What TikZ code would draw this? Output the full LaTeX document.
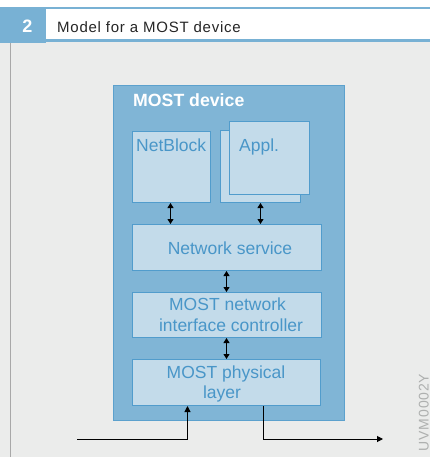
\documentclass[tikz,border=0pt]{standalone}
\usepackage{fontspec}
\setmainfont{Liberation Sans}
\newfontfamily\hdrfont[LetterSpace=5]{Liberation Sans}
\newfontfamily\codefont[LetterSpace=6]{Liberation Sans}
\usetikzlibrary{arrows.meta}
\definecolor{bgray}{HTML}{EBECEB}
\definecolor{hblue}{HTML}{78B1D4}
\definecolor{devfill}{HTML}{80B5D6}
\definecolor{devline}{HTML}{5CA1CD}
\definecolor{boxfill}{HTML}{C3DBEA}
\definecolor{boxline}{HTML}{519CCC}
\definecolor{txtblue}{HTML}{4996C8}
\definecolor{codegray}{HTML}{AEB0AF}
\definecolor{edgegray}{HTML}{A8A8A8}
\begin{document}
\begin{tikzpicture}[x=1pt,y=-1pt,
  blk/.style={draw=boxline, fill=boxfill, line width=1pt, inner sep=0pt, rectangle, anchor=north west},
  lbl/.style={text=txtblue, font=\fontsize{17.5}{20}\selectfont, inner sep=0pt, anchor=base},
  dbl/.style={{Triangle[length=5pt,width=6pt]}-{Triangle[length=5pt,width=6pt]}, line width=1pt, black},
  sig/.style={-{Triangle[length=6pt,width=6pt]}, line width=1pt, black}]
\useasboundingbox (0,0) rectangle (430,457);
% background
\fill[white] (0,0) rectangle (430,457);
\fill[bgray] (0,42.5) rectangle (430,457);
\draw[edgegray, line width=0.8pt] (10.5,42.5) -- (10.5,457);
% header
\fill[hblue] (0,7.5) rectangle (430,9.5);
\fill[hblue] (0,39.5) rectangle (430,42.5);
\node[fill=hblue, inner sep=0pt, minimum width=46pt, minimum height=35pt, anchor=north west] (numbox) at (0,7.5) {};
\node[text=white, font=\fontsize{18}{20}\selectfont\bfseries, inner sep=0pt, anchor=base] (num) at (27.3,32.7) {2};
\node[text=black!85, font=\hdrfont\fontsize{15}{17}\selectfont, inner sep=0pt, anchor=base west] (title) at (57,32.3) {Model for a MOST device};
% device
\node[draw=devline, fill=devfill, line width=1pt, inner sep=0pt, minimum width=231pt, minimum height=335pt, anchor=north west] (dev) at (113,85) {};
\node[text=white, font=\fontsize{17.7}{20}\selectfont\bfseries, inner sep=0pt, anchor=base west] (devlbl) at (133,106.3) {MOST device};
% boxes
\node[blk, minimum width=78pt, minimum height=71pt] (netblock) at (132,131) {};
\node[lbl, anchor=base west] (nbtxt) at (136,151) {NetBlock};
\node[blk, minimum width=80pt, minimum height=72pt] (applback) at (220,130) {};
\node[blk, minimum width=80pt, minimum height=72pt] (applfront) at (229,121.5) {};
\node[lbl, anchor=base west] (appltxt) at (239,151) {Appl.};
\node[blk, minimum width=189pt, minimum height=46pt] (ns) at (132,224) {};
\node[lbl] (nstxt) at (230,254) {Network service};
\node[blk, minimum width=189pt, minimum height=45pt] (nic) at (132,292) {};
\node[lbl] (nictxt1) at (227.5,310) {MOST network};
\node[lbl] (nictxt2) at (231,331) {interface controller};
\node[blk, minimum width=188pt, minimum height=46pt] (phy) at (132,359) {};
\node[lbl] (phytxt1) at (226,378) {MOST physical};
\node[lbl] (phytxt2) at (222,398) {layer};
% connectors
\draw[dbl] ([xshift=-1pt]netblock.south) -- ([xshift=-1pt]netblock.south |- ns.north);
\draw[dbl] (applback.south) -- (applback.south |- ns.north);
\draw[dbl] ([xshift=-0.5pt]ns.south) -- ([xshift=-0.5pt]nic.north);
\draw[dbl] ([xshift=-0.5pt]nic.south) -- ([xshift=-0.5pt]nic.south |- phy.north);
\coordinate (in) at (77,439);
\coordinate (out) at (383,439);
\draw[sig] (in) -| ([xshift=-39pt]phy.south);
\draw[sig] ([xshift=37pt]phy.south) |- (out);
% code
\node[text=codegray, font=\codefont\fontsize{14}{16}\selectfont, inner sep=0pt, rotate=90, anchor=base] (code) at (428.5,412.5) {UVM0002Y};
\end{tikzpicture}
\end{document}
